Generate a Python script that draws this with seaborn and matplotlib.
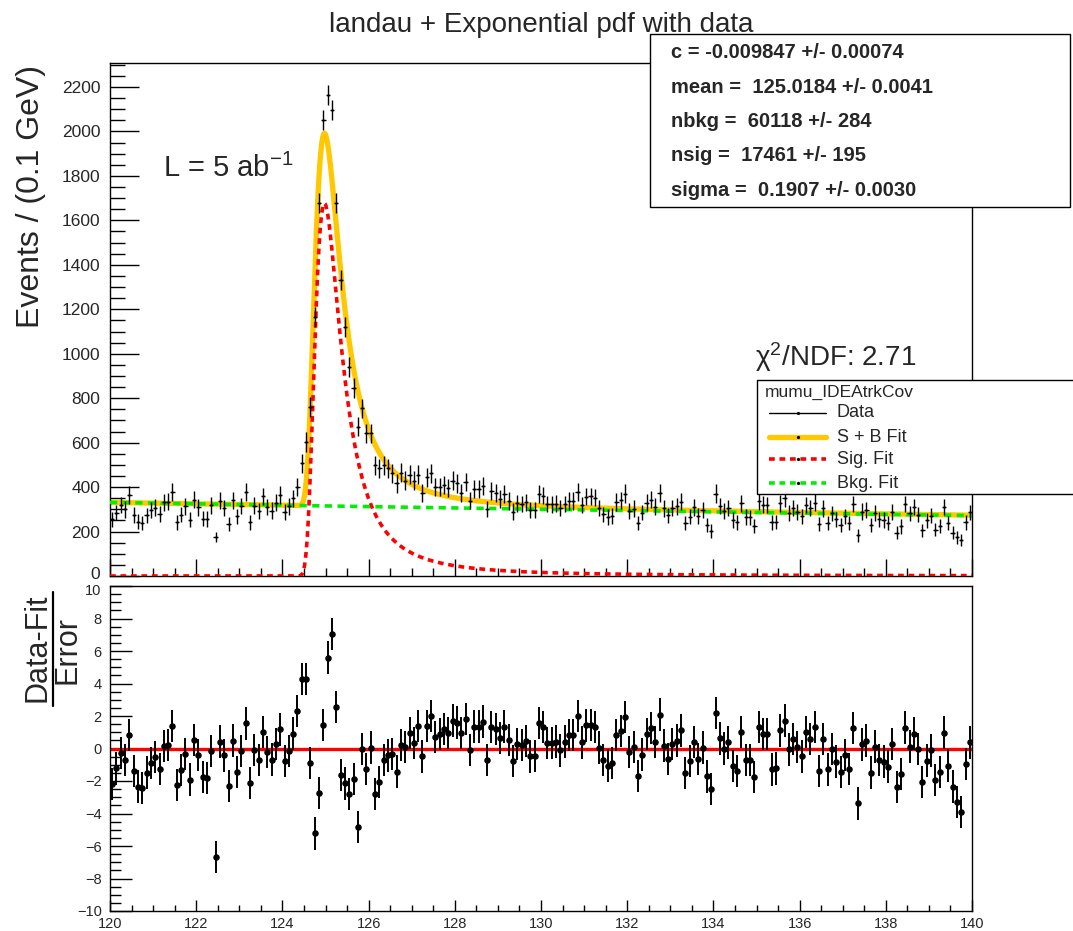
import numpy as np
import pandas as pd
import seaborn as sns
import matplotlib
matplotlib.use("Agg")
import matplotlib.pyplot as plt
from matplotlib.ticker import MultipleLocator
from matplotlib.patches import Rectangle
from matplotlib.lines import Line2D
from matplotlib.transforms import ScaledTranslation

# ---------------- fit results ----------------
fit_c = -0.009847
fit_mean = 125.0184
fit_nbkg = 60118
fit_nsig = 17461
fit_sigma = 0.1907
chi2_ndf = 2.71
x_lo, x_hi, n_bins = 120.0, 140.0, 200

stat_lines = [
    "c = -0.009847 +/- 0.00074",
    "mean =  125.0184 +/- 0.0041",
    "nbkg =  60118 +/- 284",
    "nsig =  17461 +/- 195",
    "sigma =  0.1907 +/- 0.0030",
]

# ---------------- binned data (events per 0.1 GeV) ----------------
counts = [
    255, 285, 319, 300, 365, 275, 245, 240, 273, 296,
    308, 280, 332, 335, 378, 241, 276, 313, 254, 344,
    309, 258, 256, 318, 175, 339, 306, 235, 340, 268,
    315, 379, 241, 317, 293, 358, 311, 294, 330, 365,
    288, 313, 350, 400, 507, 602, 762, 1167, 1677, 2051,
    2164, 2096, 1677, 1332, 1121, 942, 844, 672, 754, 642,
    642, 499, 484, 499, 484, 462, 417, 465, 429, 456,
    429, 456, 372, 444, 462, 399, 402, 411, 396, 429,
    417, 375, 423, 339, 390, 390, 405, 302, 383, 375,
    346, 370, 338, 290, 327, 324, 332, 296, 297, 370,
    361, 323, 322, 326, 305, 324, 338, 338, 379, 320,
    357, 358, 352, 306, 277, 265, 270, 333, 341, 371,
    292, 303, 237, 285, 330, 344, 312, 374, 304, 273,
    306, 313, 335, 240, 267, 309, 271, 296, 231, 203,
    371, 314, 292, 305, 252, 241, 327, 265, 264, 226,
    336, 321, 320, 241, 243, 327, 349, 284, 307, 289,
    268, 320, 305, 330, 235, 304, 238, 282, 255, 231,
    268, 238, 325, 184, 290, 298, 228, 284, 255, 251,
    240, 288, 195, 223, 323, 282, 310, 276, 205, 250,
    272, 208, 225, 310, 238, 195, 175, 160, 241, 286,
]

count_errors = [
    35, 35, 37, 37, 39, 35, 32, 32, 35, 37,
    37, 35, 39, 39, 41, 32, 35, 37, 35, 39,
    37, 35, 35, 37, 22, 39, 37, 32, 39, 35,
    37, 41, 32, 37, 37, 39, 37, 37, 39, 39,
    35, 37, 39, 41, 43, 44, 45, 45, 45, 45,
    45, 45, 45, 45, 45, 45, 45, 44, 44, 44,
    44, 43, 43, 43, 43, 43, 42, 43, 42, 43,
    42, 43, 41, 42, 43, 41, 41, 41, 41, 42,
    42, 41, 42, 39, 41, 41, 41, 37, 41, 41,
    39, 41, 39, 37, 37, 37, 39, 37, 37, 41,
    39, 37, 37, 37, 37, 37, 39, 39, 41, 37,
    39, 39, 39, 37, 35, 35, 35, 39, 39, 41,
    37, 37, 32, 35, 39, 39, 37, 41, 37, 35,
    37, 37, 39, 32, 35, 37, 35, 37, 32, 30,
    41, 37, 37, 37, 35, 32, 37, 35, 35, 32,
    39, 37, 37, 32, 32, 37, 39, 35, 37, 35,
    35, 37, 37, 39, 32, 37, 32, 35, 35, 32,
    35, 32, 37, 29, 37, 37, 32, 35, 35, 35,
    32, 35, 29, 32, 37, 35, 37, 35, 30, 35,
    35, 30, 32, 37, 32, 29, 29, 27, 32, 35,
]

# ---------------- pulls (data - fit) / error ----------------
pulls = [
    -2.17, -1.23, -0.29, -0.72, 0.82, -1.39, -2.34, -2.42, -1.48, -0.88,
    -0.53, -1.27, 0.14, 0.21, 1.37, -2.26, -1.33, -0.33, -1.91, 0.51,
    -0.41, -1.76, -1.81, -0.16, -6.67, 0.43, -0.43, -2.32, 0.49, -1.44,
    -0.16, 1.54, -2.13, -0.08, -0.72, 1.03, -0.23, -0.68, 0.29, 1.17,
    -0.76, -0.14, 0.92, 2.30, 4.27, 4.27, -0.88, -5.23, -2.75, 1.44,
    5.60, 7.06, 2.54, -1.64, -2.15, -2.81, -1.87, -4.84, -0.02, -1.25,
    0.06, -2.81, -2.05, -0.70, -0.43, -0.33, -1.42, 0.21, 0.08, 0.96,
    0.35, 1.39, -0.49, 1.39, 1.99, 0.70, 0.88, 1.19, 0.96, 1.72,
    1.60, 0.94, 1.81, -0.08, 1.35, 1.35, 1.66, -0.70, 1.31, 1.19,
    0.66, 1.35, 0.53, -0.76, 0.27, 0.21, 0.47, -0.49, -0.45, 1.56,
    1.33, 0.33, 0.33, 0.43, -0.12, 0.43, 0.82, 0.84, 1.99, 0.37,
    1.42, 1.46, 1.31, 0.06, -0.70, -1.05, -0.88, 0.84, 1.09, 1.93,
    -0.21, 0.08, -1.70, -0.37, 0.88, 1.25, 0.41, 2.09, 0.18, -0.64,
    0.29, 0.49, 1.11, -1.52, -0.76, 0.41, -0.64, 0.06, -1.72, -2.50,
    2.17, 0.62, 0.00, 0.37, -1.09, -1.37, 1.03, -0.70, -0.70, -1.76,
    1.31, 0.90, 0.90, -1.29, -1.23, 1.11, 1.72, -0.06, 0.59, 0.08,
    -0.49, 1.01, 0.59, 1.31, -1.39, 0.59, -1.29, -0.04, -0.80, -1.46,
    -0.39, -1.25, 1.25, -3.38, 0.25, 0.49, -1.48, 0.12, -0.70, -0.80,
    -1.11, 0.27, -2.38, -1.58, 1.29, 0.12, 0.92, -0.04, -2.05, -0.74,
    -0.12, -1.93, -1.44, 0.98, -1.05, -2.34, -3.30, -3.90, -0.96, 0.37,
]

bin_w = (x_hi - x_lo) / n_bins
edges = np.linspace(x_lo, x_hi, n_bins + 1)
centers = 0.5 * (edges[:-1] + edges[1:])

data = pd.DataFrame({"mass": centers, "events": counts,
                     "err": count_errors, "pull": pulls})


# ---------------- fit model curves ----------------
def landau_density(lam):
    """Standard Landau density (same convention as TMath::Landau)."""
    lam = np.asarray(lam, dtype=float)
    t = np.linspace(0.0, 25.0, 25001)
    tlogt = np.zeros_like(t)
    tlogt[1:] = t[1:] * np.log(t[1:])
    damp = np.exp(-0.5 * np.pi * t)
    out = np.zeros_like(lam)
    idx = np.nonzero(lam > -4.0)[0]
    for k in range(0, idx.size, 100):
        sl = idx[k:k + 100]
        integrand = damp * np.cos(lam[sl, None] * t + tlogt)
        out[sl] = np.trapezoid(integrand, t, axis=1) / np.pi
    return np.clip(out, 0.0, None)


x_fine = np.linspace(x_lo, x_hi, 2001)
sig_shape = landau_density((x_fine - fit_mean) / fit_sigma) / fit_sigma
sig_shape /= np.trapezoid(sig_shape, x_fine)
bkg_shape = fit_c * np.exp(fit_c * x_fine) / (np.exp(fit_c * x_hi) - np.exp(fit_c * x_lo))

sig_curve = fit_nsig * bin_w * sig_shape
bkg_curve = fit_nbkg * bin_w * bkg_shape
tot_curve = sig_curve + bkg_curve
curves = pd.DataFrame({"mass": x_fine, "sb": tot_curve,
                       "sig": sig_curve, "bkg": bkg_curve})

# ---------------- style ----------------
sns.set_style("white")
plt.rcParams["font.family"] = ["Liberation Sans", "DejaVu Sans"]
plt.rcParams["mathtext.fontset"] = "custom"
plt.rcParams["mathtext.rm"] = "Liberation Sans"
plt.rcParams["mathtext.it"] = "Liberation Sans:italic"
plt.rcParams["mathtext.bf"] = "Liberation Sans:bold"
plt.rcParams["axes.linewidth"] = 1.0
plt.rcParams["axes.edgecolor"] = "black"

W, H = 1073, 931
fig = plt.figure(figsize=(W / 100, H / 100), dpi=100)


def fx(px):
    return px / W


def fy(py):
    return 1.0 - py / H


ax1 = fig.add_axes([fx(110), fy(576), fx(972) - fx(110), fy(63) - fy(576)])
ax2 = fig.add_axes([fx(110), fy(911), fx(972) - fx(110), fy(586) - fy(911)])

S_B = "#ffc800"
SIG = "#ff0000"
BKG = "#00ee00"

# ---- upper pad: data and fit ----
sns.lineplot(data=curves, x="mass", y="sb", ax=ax1, color=S_B, lw=3.8,
             estimator=None, sort=False, zorder=2)
sns.lineplot(data=curves, x="mass", y="sig", ax=ax1, color=SIG, lw=2.6,
             ls=(0, (1.6, 1.3)), estimator=None, sort=False, zorder=3)
sns.lineplot(data=curves, x="mass", y="bkg", ax=ax1, color=BKG, lw=2.6,
             ls=(0, (2.0, 1.5)), estimator=None, sort=False, zorder=4)
ax1.errorbar(data["mass"], data["events"], yerr=data["err"], xerr=bin_w / 2,
             fmt="none", ecolor="black", elinewidth=1.0, capsize=0, zorder=5)
sns.scatterplot(data=data, x="mass", y="events", ax=ax1, color="black",
                s=3, linewidth=0, zorder=6)

ax1.set_xlim(x_lo, x_hi)
ax1.set_ylim(0, 2308)
ax1.yaxis.set_major_locator(MultipleLocator(200))
ax1.yaxis.set_minor_locator(MultipleLocator(50))
ax1.xaxis.set_major_locator(MultipleLocator(2))
ax1.xaxis.set_minor_locator(MultipleLocator(0.5))
ax1.tick_params(which="both", left=True, bottom=True, right=False, top=False,
                direction="in", width=1.0, color="black")
ax1.tick_params(axis="y", which="major", length=21, labelsize=12.5, pad=7)
ax1.tick_params(axis="y", which="minor", length=10.5)
ax1.tick_params(axis="x", which="major", length=12, labelbottom=False)
ax1.tick_params(axis="x", which="minor", length=6)
ax1.set_xlabel("")
ax1.set_ylabel("")

# ---- lower pad: pulls ----
ax2.axhline(0, color="#ff0000", lw=2.4, zorder=2)
ax2.errorbar(data["mass"], data["pull"], yerr=1.0, fmt="none", ecolor="black",
             elinewidth=1.4, capsize=0, zorder=3)
sns.scatterplot(data=data, x="mass", y="pull", ax=ax2, color="black",
                s=22, linewidth=0, zorder=4)
ax2.set_xlim(x_lo, x_hi)
ax2.set_ylim(-10, 10)
ax2.yaxis.set_major_locator(MultipleLocator(2))
ax2.yaxis.set_minor_locator(MultipleLocator(0.5))
ax2.xaxis.set_major_locator(MultipleLocator(2))
ax2.xaxis.set_minor_locator(MultipleLocator(0.5))
ax2.tick_params(which="both", left=True, bottom=True, right=False, top=False,
                direction="in", width=1.0, color="black")
ax2.tick_params(axis="y", which="major", length=16, labelsize=10.5, pad=6)
ax2.tick_params(axis="y", which="minor", length=8)
ax2.tick_params(axis="x", which="major", length=8, labelsize=10.5, pad=4)
ax2.tick_params(axis="x", which="minor", length=4)
ax2.set_xlabel("")
ax2.set_ylabel("")

# keep the "0" of the upper pad and the "10" of the lower pad apart
fig.canvas.draw()
for tick in ax1.yaxis.get_major_ticks():
    if abs(tick.get_loc()) < 1e-9:
        lab = tick.label1
        lab.set_transform(lab.get_transform()
                          + ScaledTranslation(0, 3 / 100, fig.dpi_scale_trans))
for tick in ax2.yaxis.get_major_ticks():
    if abs(tick.get_loc() - 10) < 1e-9:
        lab = tick.label1
        lab.set_transform(lab.get_transform()
                          + ScaledTranslation(0, -3 / 100, fig.dpi_scale_trans))

# ---------------- texts ----------------
fig.text(fx(541), fy(25), "landau + Exponential pdf with data", ha="center",
         va="center", fontsize=20)
fig.text(fx(31), fy(197), "Events / (0.1 GeV)", rotation=90, ha="center",
         va="center", fontsize=23)
fig.text(fx(163), fy(168), r"L = 5 ab$^{-1}$", ha="left", va="center",
         fontsize=21)
fig.text(fx(755), fy(357), "χ$^{2}$/NDF: " + f"{chi2_ndf:.2f}", ha="left",
         va="center", fontsize=20)

# pull axis title written as a fraction
fig.text(fx(37), fy(648), "Data-Fit", rotation=90, ha="center", va="center",
         fontsize=22)
fig.text(fx(68), fy(650), "Error", rotation=90, ha="center", va="center",
         fontsize=22)
fig.add_artist(Line2D([fx(53), fx(53)], [fy(592), fy(706)], color="black",
                      lw=1.6, transform=fig.transFigure))

# ---------------- parameter box ----------------
fig.add_artist(Rectangle((fx(650), fy(207)), fx(1070) - fx(650), fy(34) - fy(207),
                         transform=fig.transFigure, facecolor="white",
                         edgecolor="black", lw=1.0, zorder=10))
for k, line in enumerate(stat_lines):
    fig.text(fx(671), fy(53 + 34.3 * k), line, ha="left", va="center",
             fontsize=14.5, fontweight="bold", zorder=11)

# ---------------- legend ----------------
fig.add_artist(Rectangle((fx(757), fy(494)), fx(1080) - fx(757), fy(380) - fy(494),
                         transform=fig.transFigure, facecolor="white",
                         edgecolor="black", lw=1.0, zorder=10))
fig.text(fx(765), fy(392), "mumu_IDEAtrkCov", ha="left", va="center",
         fontsize=12.5, zorder=11)
legend_rows = [
    ("Data", dict(color="black", lw=1.0)),
    ("S + B Fit", dict(color=S_B, lw=3.8)),
    ("Sig. Fit", dict(color=SIG, lw=2.6, ls=(0, (1.6, 1.3)))),
    ("Bkg. Fit", dict(color=BKG, lw=2.6, ls=(0, (1.6, 1.3)))),
]
row_y = [413, 437, 459, 483]
for (label, style), yy in zip(legend_rows, row_y):
    fig.add_artist(Line2D([fx(769), fx(826)], [fy(yy), fy(yy)],
                          transform=fig.transFigure, zorder=11, **style))
    fig.add_artist(Line2D([fx(797.5)], [fy(yy)], marker="o", ms=1.3,
                          color="black", transform=fig.transFigure, zorder=12))
    fig.text(fx(837), fy(yy), label, ha="left", va="center", fontsize=13,
             zorder=11)

fig.savefig("out.png", dpi=100)
